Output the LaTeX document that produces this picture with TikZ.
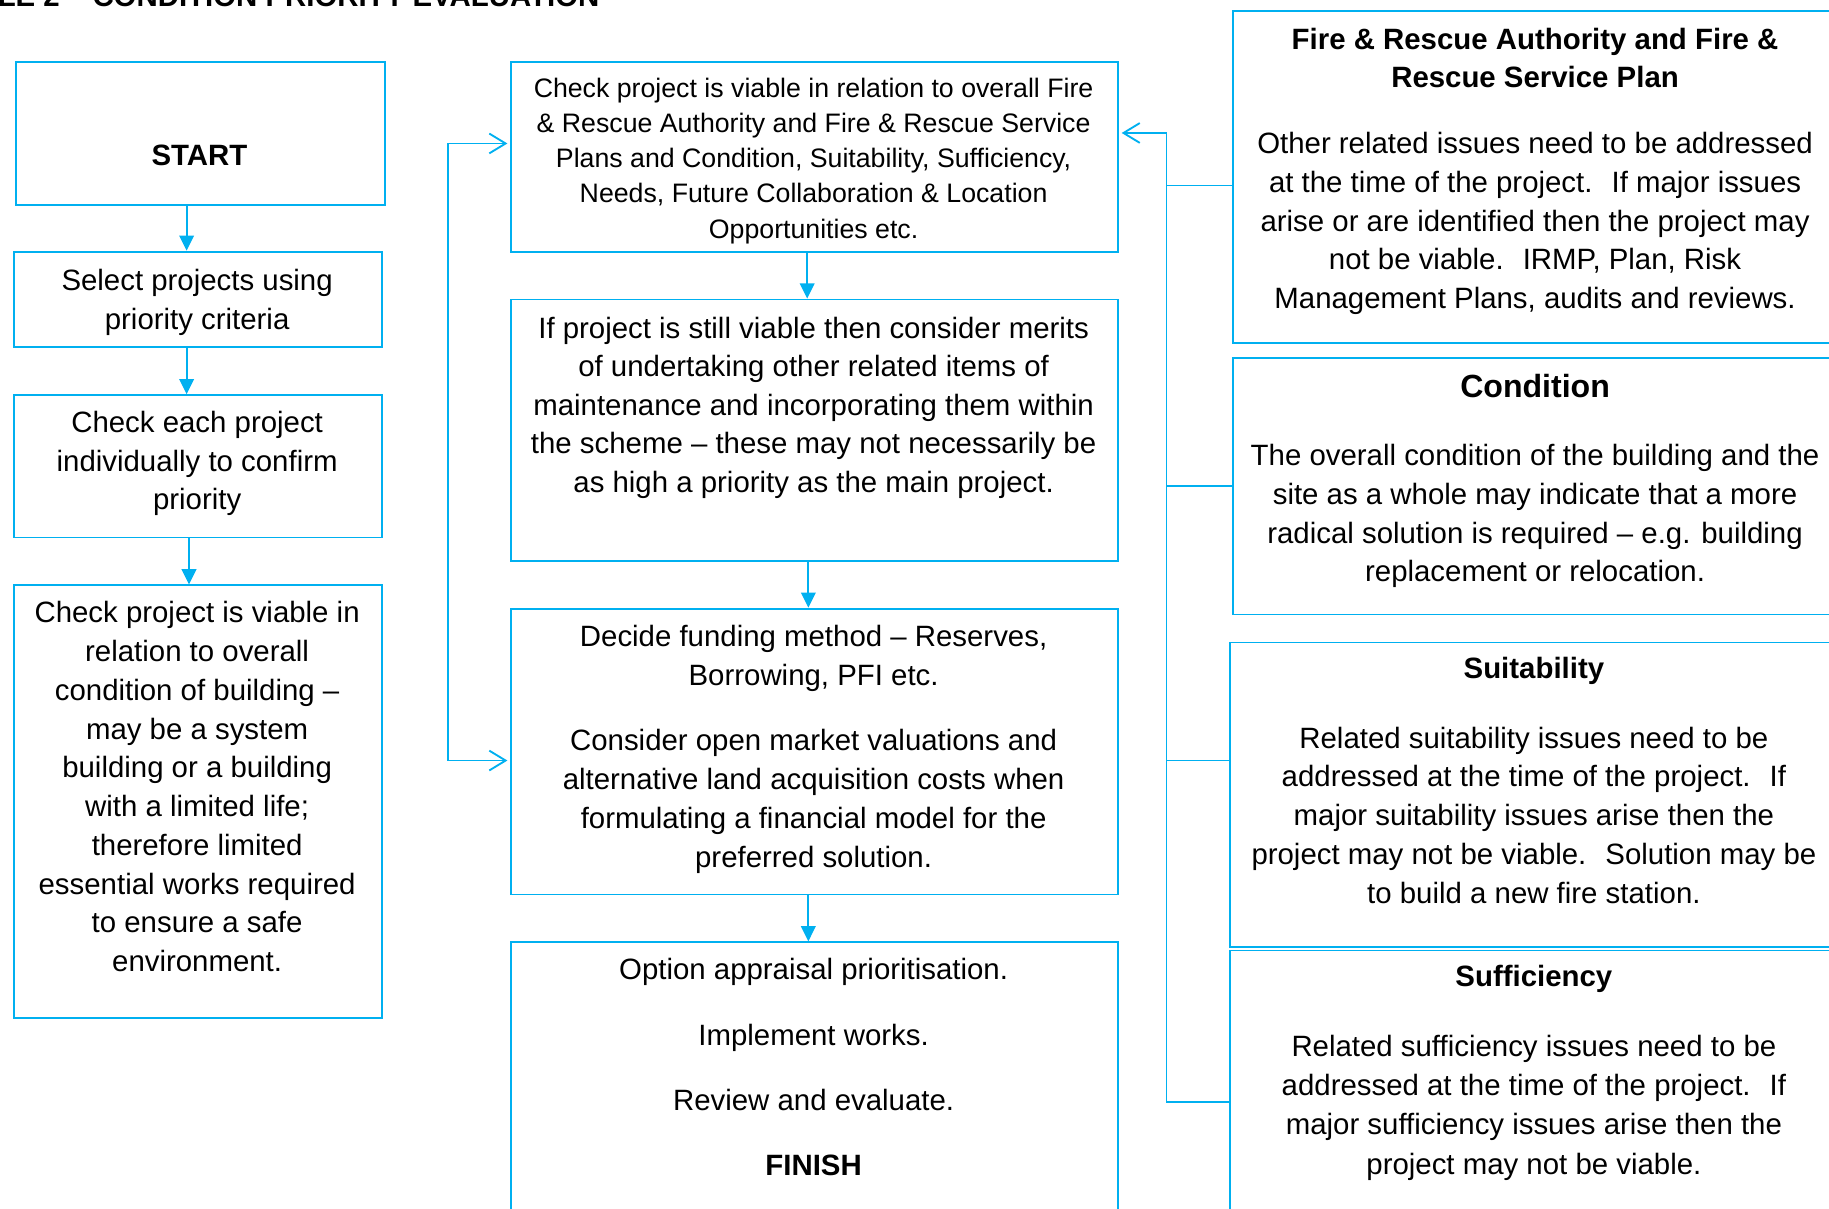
\documentclass[tikz,border=0pt]{standalone}
\usepackage{fontspec}
\setmainfont{Liberation Sans}
\usetikzlibrary{arrows.meta}
\definecolor{cblue}{HTML}{00B0F0}
\newcommand\hs{\rule{0pt}{0.8em}}
\begin{document}
\begin{tikzpicture}[x=1pt,y=-1pt,
  box/.style={draw=cblue, line width=1.6pt, inner sep=0pt, anchor=north west},
  txt/.style={inner sep=0pt, align=center, anchor=north, font=\fontsize{25.2}{33}\selectfont},
  smalltxt/.style={txt, font=\fontsize{22.9}{30.25}\selectfont},
  flow/.style={draw=cblue, line width=1.6pt, -{Triangle[width=12.5pt,length=13pt]}},
  link/.style={draw=cblue, line width=1.6pt},
  barbs/.style={draw=cblue, line width=1.6pt, {Straight Barb[length=14pt,width=17pt]}-{Straight Barb[length=14pt,width=17pt]}},
  barb/.style={draw=cblue, line width=1.6pt, -{Straight Barb[length=14pt,width=17pt]}}
]
\useasboundingbox (0,0) rectangle (1568,1036);
\clip (0,0) rectangle (1568,1036);

% title (cut by the page top)
\node[anchor=base east, inner sep=0pt, font=\fontsize{25.2}{30}\selectfont\bfseries] (title) at (514,5.5) {LE 2 – CONDITION PRIORITY EVALUATION};

% left column
\node[box, minimum width=316pt, minimum height=123pt] (st) at (13,52) {};
\node[box, minimum width=316pt, minimum height=82pt] (sel) at (11,215) {};
\node[box, minimum width=316pt, minimum height=122pt] (chk) at (11,338) {};
\node[box, minimum width=316pt, minimum height=371pt] (via) at (11,501) {};

\node[txt, font=\fontsize{25.2}{33}\selectfont\bfseries] (tst) at (171,121.7) {\hs START};
\node[txt] (tsel) at (169,228.7) {\hs Select projects using\\priority criteria};
\node[txt] (tchk) at (169,350.7) {\hs Check each project\\individually to confirm\\priority};
\node[txt, font=\fontsize{25.2}{33.2}\selectfont] (tvia) at (169,513.7) {\hs Check project is viable in\\relation to overall\\condition of building –\\may be a system\\building or a building\\with a limited life;\\therefore limited\\essential works required\\to ensure a safe\\environment.};

% middle column
\node[box, minimum width=521pt, minimum height=163pt] (m1) at (437,52) {};
\node[box, minimum width=521pt, minimum height=224pt] (m2) at (437,256) {};
\node[box, minimum width=521pt, minimum height=245pt] (m3) at (437,521) {};
\node[box, minimum width=521pt, minimum height=238pt] (m4) at (437,807) {};

\node[smalltxt] (tm1) at (697.5,64.7) {\hs Check project is viable in relation to overall Fire\\\& Rescue Authority and Fire \& Rescue Service\\Plans and Condition, Suitability, Sufficiency,\\Needs, Future Collaboration \& Location\\Opportunities etc.};
\node[txt] (tm2) at (697.5,269.7) {\hs If project is still viable then consider merits\\of undertaking other related items of\\maintenance and incorporating them within\\the scheme – these may not necessarily be\\as high a priority as the main project.};
\node[txt, font=\fontsize{25.2}{33.5}\selectfont] (tm3) at (697.5,533.7) {\hs Decide funding method – Reserves,\\Borrowing, PFI etc.\\[22pt]Consider open market valuations and\\alternative land acquisition costs when\\formulating a financial model for the\\preferred solution.};
\node[txt] (tm4) at (697.5,819.7) {\hs Option appraisal prioritisation.\\[23pt]Implement works.\\[23pt]Review and evaluate.\\[23pt]\textbf{FINISH}};

% right column
\node[box, minimum width=520pt, minimum height=284pt] (r1) at (1056,9) {};
\node[box, minimum width=520pt, minimum height=220pt] (r2) at (1056,306) {};
\node[box, minimum width=522pt, minimum height=261pt] (r3) at (1054,550) {};
\node[box, minimum width=522pt, minimum height=231pt] (r4) at (1054,814) {};

\node[txt, font=\fontsize{25.2}{33.25}\selectfont] (tr1) at (1316,21.7) {\hs\textbf{Fire \& Rescue Authority and Fire \&}\\\textbf{Rescue Service Plan}\\[23pt]Other related issues need to be addressed\\at the time of the project.~ If major issues\\arise or are identified then the project may\\not be viable.~ IRMP, Plan, Risk\\Management Plans, audits and reviews.};
\node[txt, font=\fontsize{25.2}{33.3}\selectfont] (tr2) at (1316,318.6) {{\fontsize{27.5}{33}\selectfont\bfseries\hs Condition}\\[24.9pt]The overall condition of the building and the\\site as a whole may indicate that a more\\radical solution is required – e.g. building\\replacement or relocation.};
\node[txt, font=\fontsize{25.2}{33.3}\selectfont] (tr3) at (1315,561.7) {\hs\textbf{Suitability}\\[26pt]Related suitability issues need to be\\addressed at the time of the project.~ If\\major suitability issues arise then the\\project may not be viable.~ Solution may be\\to build a new fire station.};
\node[txt, font=\fontsize{25.2}{33.7}\selectfont] (tr4) at (1315,825.7) {\hs\textbf{Sufficiency}\\[25.6pt]Related sufficiency issues need to be\\addressed at the time of the project.~ If\\major sufficiency issues arise then the\\project may not be viable.};

% flow arrows
\coordinate (xa) at (160,0);
\coordinate (xb) at (162,0);
\coordinate (xc) at (692,0);
\coordinate (xd) at (693,0);
\draw[flow] (st.south -| xa) -- (sel.north -| xa);
\draw[flow] (sel.south -| xa) -- (chk.north -| xa);
\draw[flow] (chk.south -| xb) -- (via.north -| xb);
\draw[flow] (m1.south -| xc) -- (m2.north -| xc);
\draw[flow] (m2.south -| xd) -- (m3.north -| xd);
\draw[flow] (m3.south -| xd) -- (m4.north -| xd);

% left bracket
\coordinate (lb1) at (384,123);
\coordinate (lb2) at (384,652);
\draw[barbs] ([xshift=-2pt]lb1 -| m1.west) -- (lb1) -- (lb2) -- ([xshift=-2pt]lb2 -| m3.west);

% right bracket
\coordinate (rb1) at (1000,114);
\coordinate (rb2) at (1000,945);
\coordinate (s1) at (1000,159);
\coordinate (s2) at (1000,417);
\coordinate (s3) at (1000,652);
\draw[barb] (rb2) -- (rb1) -- ([xshift=2pt]rb1 -| m1.east);
\draw[link] (s1) -- (s1 -| r1.west);
\draw[link] (s2) -- (s2 -| r2.west);
\draw[link] (s3) -- (s3 -| r3.west);
\draw[link] (rb2) -- (rb2 -| r4.west);
\end{tikzpicture}
\end{document}
